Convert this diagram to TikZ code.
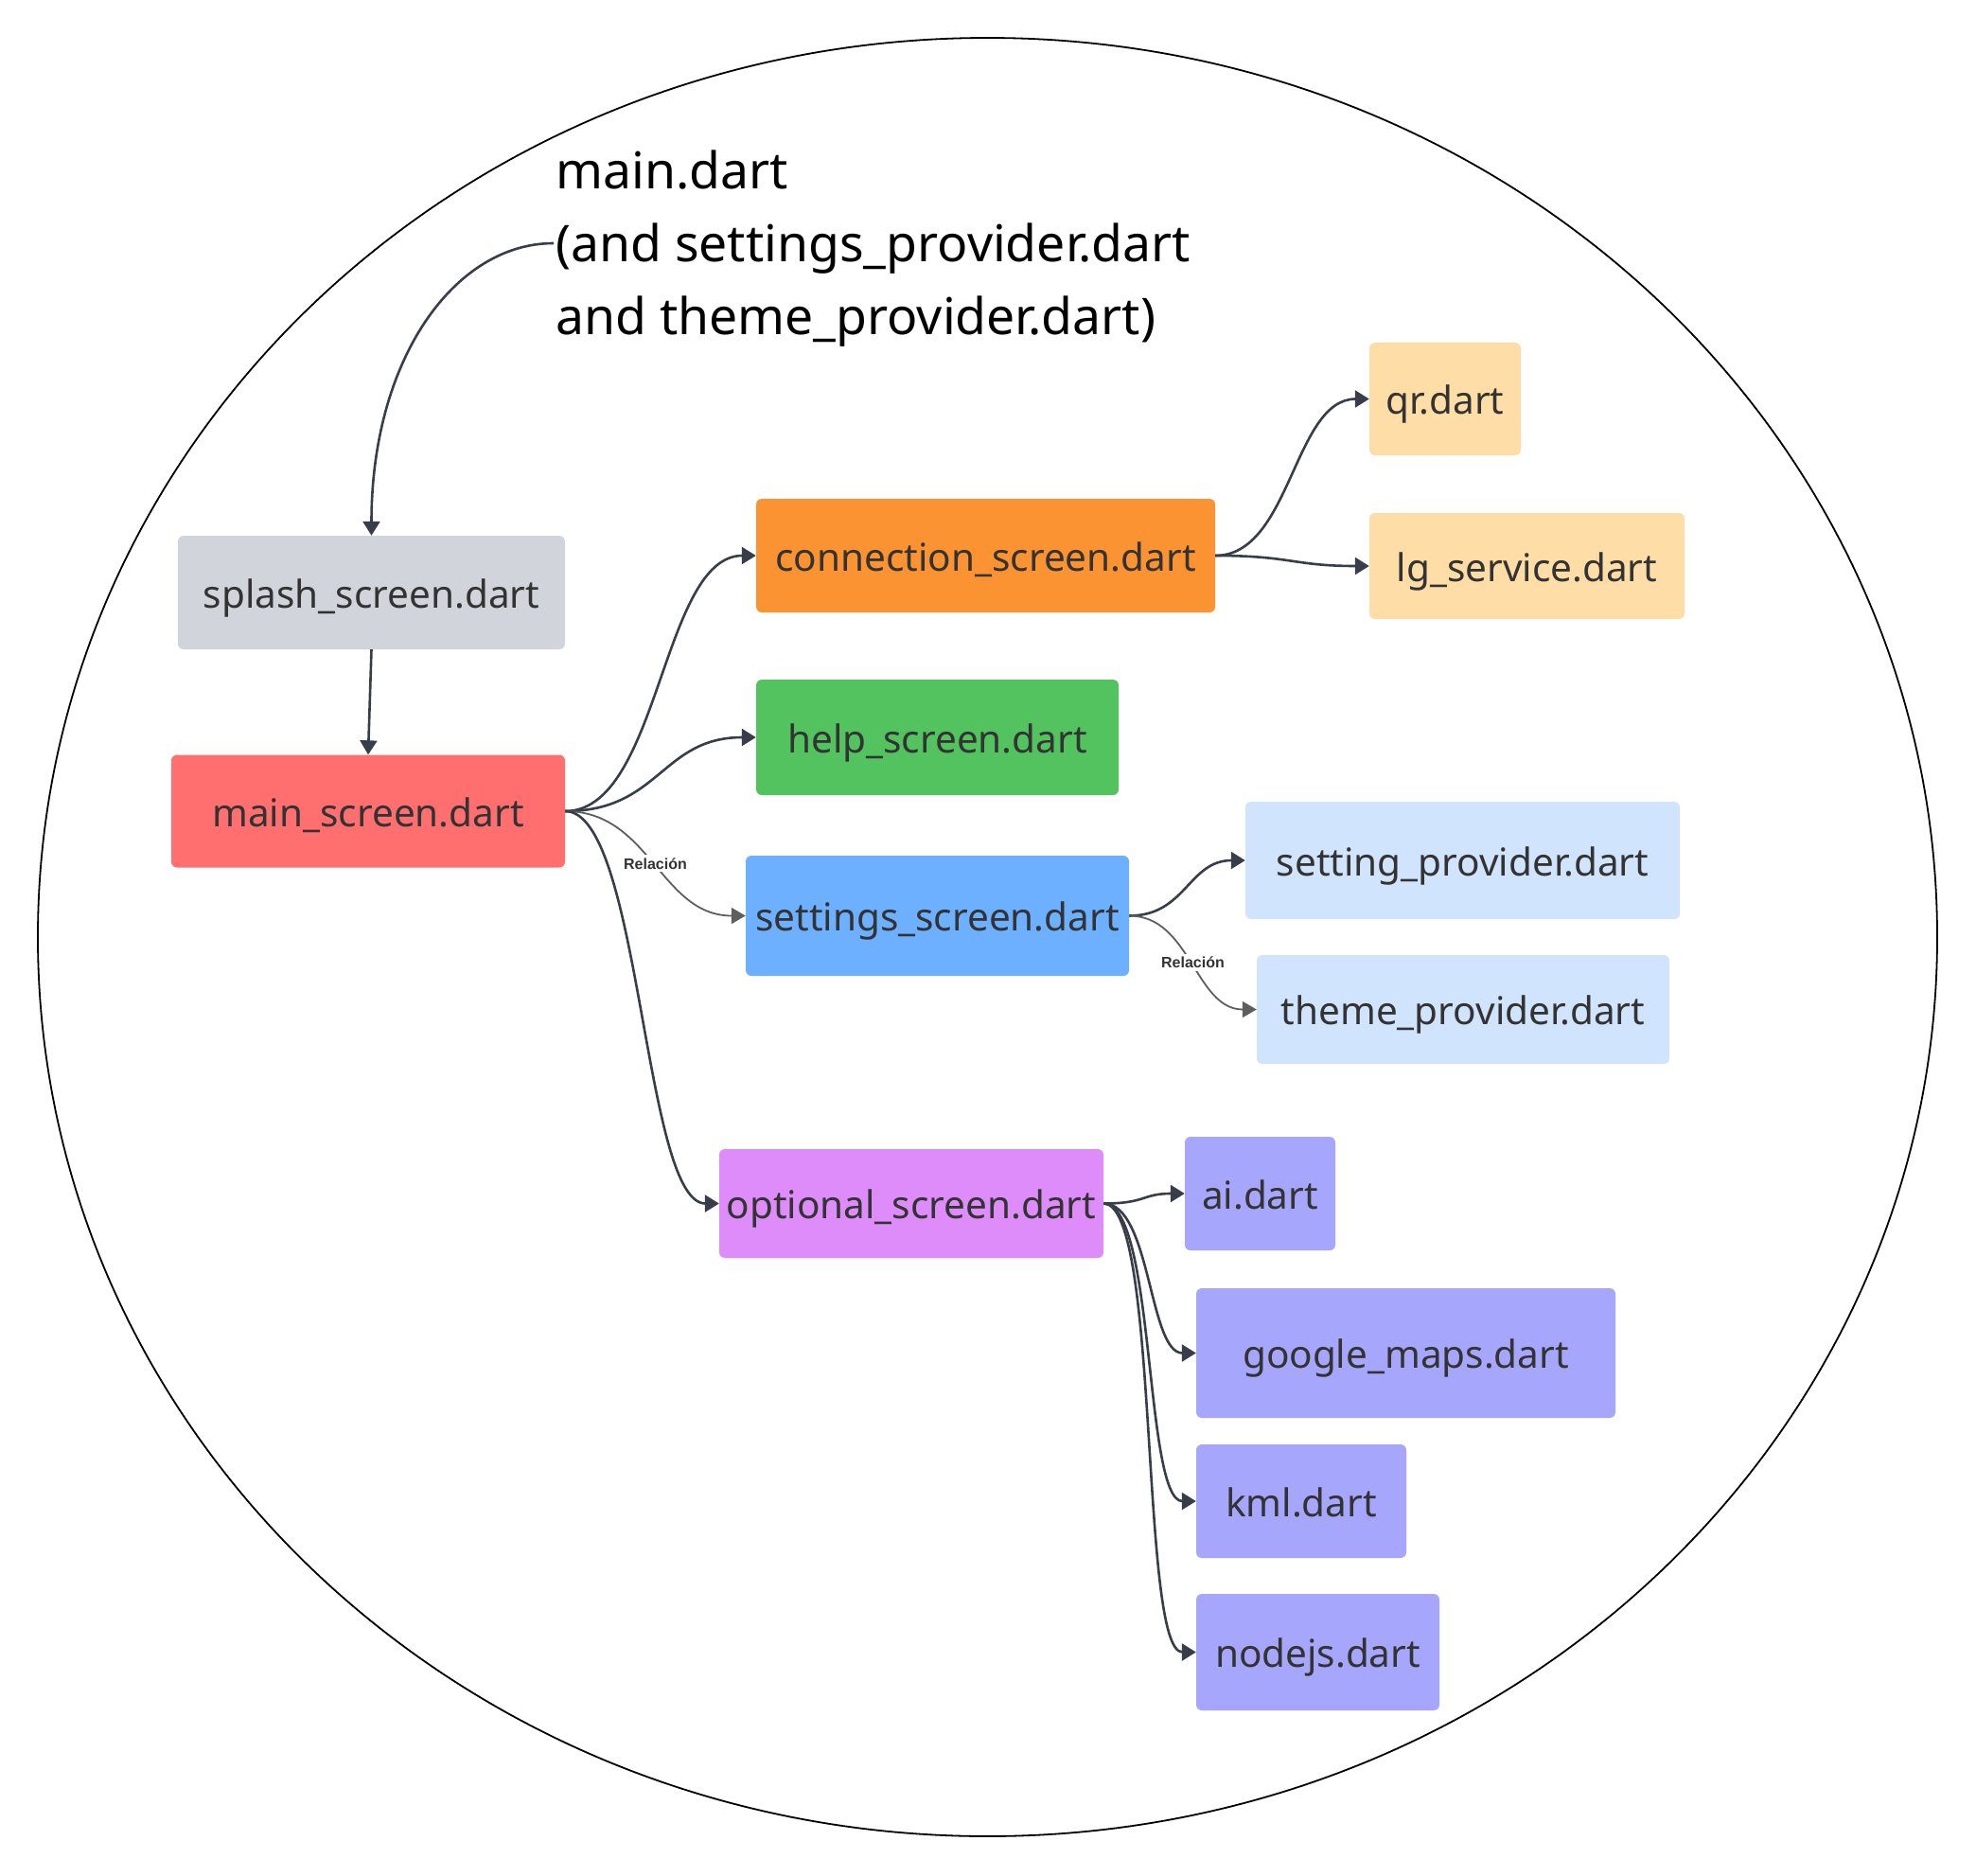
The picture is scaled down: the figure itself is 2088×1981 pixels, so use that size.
\documentclass[tikz,border=0pt]{standalone}
\usepackage{fontspec}
\setmainfont{Noto Sans}
\newfontfamily\lblfont{Liberation Sans}
\usetikzlibrary{arrows.meta,calc}
\definecolor{edgec}{HTML}{373E49}
\definecolor{relc}{HTML}{5E5E5E}
\definecolor{txt}{HTML}{333333}
\definecolor{cgray}{HTML}{D1D5DB}
\definecolor{cred}{HTML}{FF6F6F}
\definecolor{corange}{HTML}{FB9333}
\definecolor{cgreen}{HTML}{52C35F}
\definecolor{cblue}{HTML}{6CB0FF}
\definecolor{cpink}{HTML}{DF8CFB}
\definecolor{cpeach}{HTML}{FEDDA6}
\definecolor{clblue}{HTML}{D0E4FD}
\definecolor{cviolet}{HTML}{A6A6FD}
\begin{document}
\begin{tikzpicture}[x=1pt,y=-1pt,
  box/.style={rounded corners=6pt, inner sep=0pt, text=txt, text height=38pt, text depth=6pt,
    font=\fontsize{40.5}{48}\selectfont},
  conn/.style={draw=edgec, line width=2.6pt, -{Triangle[length=15pt,width=18pt]}},
  rel/.style={draw=relc, line width=1.8pt, -{Triangle[length=15pt,width=17pt]}},
  lbl/.style={fill=white, inner sep=3pt, font=\lblfont\bfseries\fontsize{16}{19}\selectfont, text=txt}]
\useasboundingbox (0,0) rectangle (2088,1981);
\fill[white] (0,0) rectangle (2088,1981);
\draw[line width=1.8pt] (1043.5,990) ellipse [x radius=1003.5pt, y radius=950pt];

\node[anchor=west, align=left, inner sep=2pt, font=\fontsize{53.5}{77}\selectfont] (title) at (585,263)
  {main.dart\\(and settings\_provider.dart\\and theme\_provider.dart)};

\node[box, fill=cgray, minimum width=409pt, minimum height=120pt] (splash) at (392.5,626) {splash\_screen.dart};
\node[box, fill=cred, minimum width=416pt, minimum height=119pt] (main) at (389,857) {main\_screen.dart};
\node[box, fill=corange, minimum width=485pt, minimum height=120pt] (conn) at (1041.5,587) {connection\_screen.dart};
\node[box, fill=cgreen, minimum width=383pt, minimum height=122pt] (help) at (990.5,779) {help\_screen.dart};
\node[box, fill=cblue, minimum width=405pt, minimum height=127pt] (settings) at (990.5,967.5) {settings\_screen.dart};
\node[box, fill=cpink, minimum width=406pt, minimum height=115pt] (optional) at (963,1271.5) {optional\_screen.dart};
\node[box, fill=cpeach, minimum width=160pt, minimum height=119pt] (qr) at (1527,421.5) {qr.dart};
\node[box, fill=cpeach, minimum width=333pt, minimum height=112pt] (lg) at (1613.5,598) {lg\_service.dart};
\node[box, fill=clblue, minimum width=459pt, minimum height=124pt] (sprov) at (1545.5,909) {setting\_provider.dart};
\node[box, fill=clblue, minimum width=436pt, minimum height=115pt] (tprov) at (1546,1066.5) {theme\_provider.dart};
\node[box, fill=cviolet, minimum width=159pt, minimum height=120pt] (ai) at (1331.5,1261) {ai.dart};
\node[box, fill=cviolet, minimum width=443pt, minimum height=137pt] (gmaps) at (1485.5,1429.5) {google\_maps.dart};
\node[box, fill=cviolet, minimum width=222pt, minimum height=120pt] (kml) at (1375,1586) {kml.dart};
\node[box, fill=cviolet, minimum width=257pt, minimum height=123pt] (nodejs) at (1392.5,1745.5) {nodejs.dart};

\draw[conn] ($(title.west)+(0,-6)$) .. controls +(-105,0) and +(0,-186) .. (splash.north);
\draw[conn] (splash.south) -- (main.north);
\draw[conn] (main.east) .. controls +(100,0) and +(-100,0) .. (conn.west);
\draw[conn] (main.east) .. controls +(100,0) and +(-100,0) .. (help.west);
\draw[rel] (main.east) .. controls +(90,0) and +(-90,0) .. node[lbl] {Relación} (settings.west);
\draw[conn] (main.east) .. controls +(80,0) and +(-80,0) .. (optional.west);
\draw[conn] (conn.east) .. controls +(80,0) and +(-80,0) .. (qr.west);
\draw[conn] (conn.east) .. controls +(80,0) and +(-80,0) .. (lg.west);
\draw[conn] (settings.east) .. controls +(60,0) and +(-60,0) .. (sprov.west);
\draw[rel] (settings.east) .. controls +(65,0) and +(-65,0) .. node[lbl] {Relación} (tprov.west);
\draw[conn] (optional.east) .. controls +(45,0) and +(-45,0) .. (ai.west);
\draw[conn] (optional.east) .. controls +(50,0) and +(-50,0) .. (gmaps.west);
\draw[conn] (optional.east) .. controls +(55,0) and +(-55,0) .. (kml.west);
\draw[conn] (optional.east) .. controls +(60,0) and +(-60,0) .. (nodejs.west);
\end{tikzpicture}
\end{document}
